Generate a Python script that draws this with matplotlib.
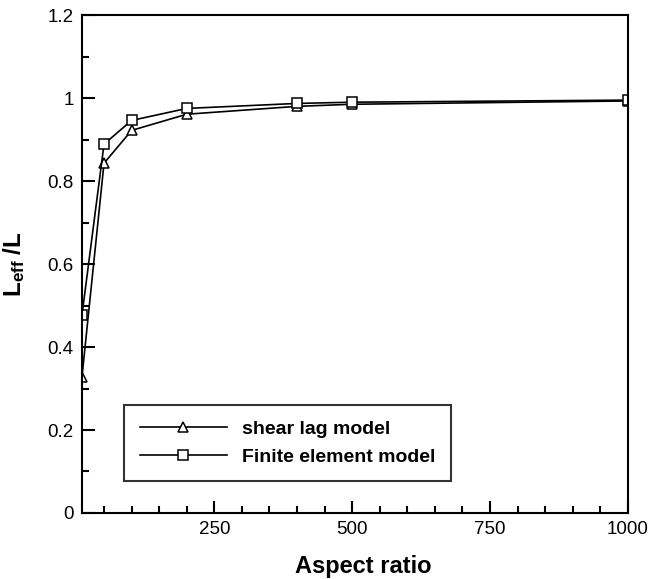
import numpy as np
import matplotlib
matplotlib.use('Agg')
import matplotlib.pyplot as plt
from matplotlib.ticker import MultipleLocator

plt.rcParams['font.family'] = ['Liberation Sans', 'DejaVu Sans']
plt.rcParams['mathtext.fontset'] = 'custom'
plt.rcParams['mathtext.rm'] = 'Liberation Sans'
plt.rcParams['mathtext.bf'] = 'Liberation Sans:bold'

# Data
aspect = [10, 50, 100, 200, 400, 500, 1000]
shear_lag = [0.328, 0.843, 0.922, 0.961, 0.980, 0.985, 0.993]
fem = [0.477, 0.889, 0.946, 0.975, 0.987, 0.990, 0.995]

fig = plt.figure(figsize=(6.48, 5.79), dpi=100)
ax = fig.add_axes([0.1265, 0.114, 0.8425, 0.86])

ax.plot(aspect, shear_lag, color='black', lw=1.2, marker='^', ms=7,
        mfc='white', mec='black', mew=1.1, label='shear lag model')
ax.plot(aspect, fem, color='black', lw=1.2, marker='s', ms=6.5,
        mfc='white', mec='black', mew=1.1, label='Finite element model')

ax.set_xlim(10, 1000)
ax.set_ylim(0, 1.2)
ax.xaxis.set_minor_locator(MultipleLocator(50))
ax.yaxis.set_minor_locator(MultipleLocator(0.1))
ax.set_xticks([250, 500, 750, 1000])
ax.set_yticks([0, 0.2, 0.4, 0.6, 0.8, 1.0, 1.2])
ax.set_yticklabels(['0', '0.2', '0.4', '0.6', '0.8', '1', '1.2'])

ax.tick_params(which='both', direction='in', top=False, right=False,
               labelsize=13.5, width=1.5)
ax.tick_params(which='major', length=9, pad=6)
ax.tick_params(which='minor', length=5)
for s in ax.spines.values():
    s.set_linewidth(1.5)

ax.set_xlabel('Aspect ratio', fontsize=17, fontweight='bold')
ax.xaxis.set_label_coords(0.515, -0.085)
ax.set_ylabel(r'$\mathbf{L_{eff}\;/L}$', fontsize=17.5)
ax.yaxis.set_label_coords(-0.1, 0.5)

leg = ax.legend(loc='lower left', bbox_to_anchor=(0.077, 0.064),
                borderaxespad=0, numpoints=1, handlelength=4.5,
                handletextpad=0.75, fancybox=False,
                prop={'weight': 'bold', 'size': 14},
                borderpad=0.8, labelspacing=0.5)
leg.get_frame().set_edgecolor('black')
leg.get_frame().set_linewidth(1.5)

fig.savefig('out.png', dpi=100)
